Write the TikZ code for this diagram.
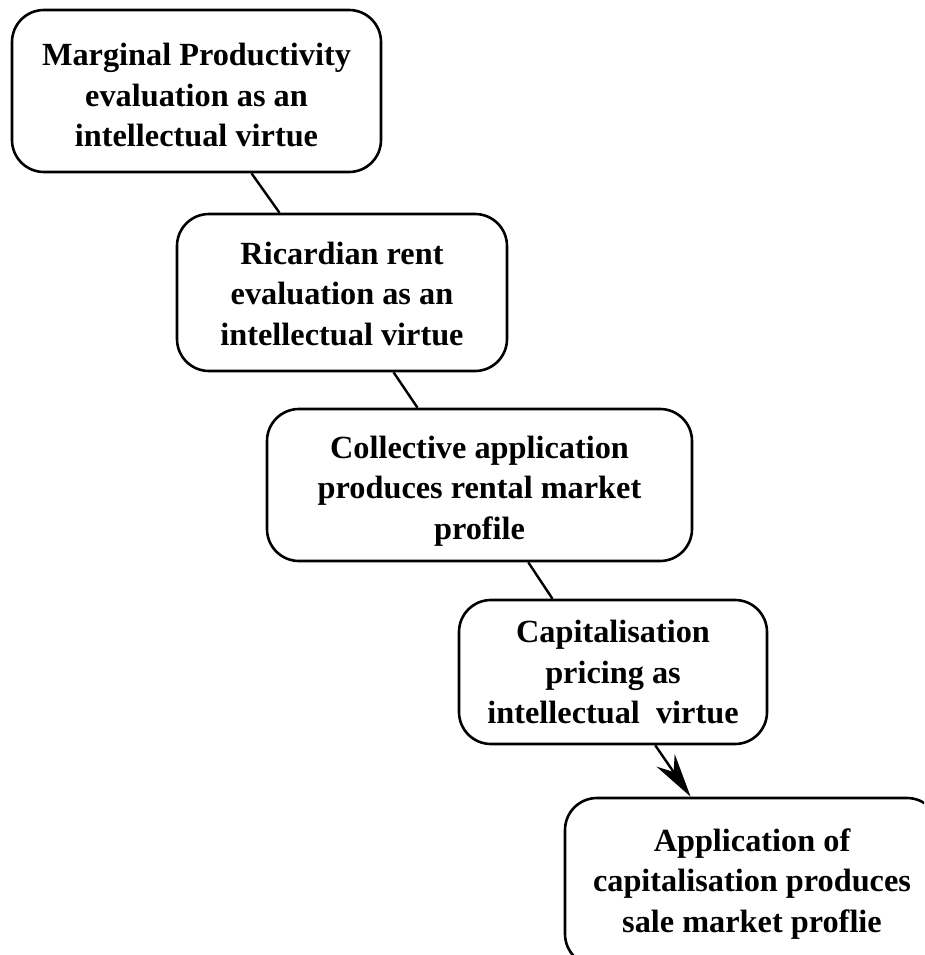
\documentclass[tikz,border=0pt]{standalone}
\usepackage{fontspec}
\setmainfont{Liberation Serif}
\usetikzlibrary{calc,arrows.meta}
\begin{document}
\begin{tikzpicture}[x=1pt,y=-1pt,
  stage/.style={draw,line width=2.6pt,rounded corners=32pt,inner sep=0pt},
  caption/.style={align=center,inner sep=0pt,
    font=\bfseries\fontsize{32.3}{40.5}\selectfont},
  link/.style={line width=2.4pt}]
\useasboundingbox (0,0) rectangle (924,955);
\clip (0,0) rectangle (924,955);
% stage boxes
\node[stage,minimum width=369pt,minimum height=162pt] (b1) at (196.5,91) {};
\node[stage,minimum width=330pt,minimum height=157pt] (b2) at (342,292.5) {};
\node[stage,minimum width=425pt,minimum height=152pt] (b3) at (479.5,485) {};
\node[stage,minimum width=308pt,minimum height=144pt] (b4) at (613,672) {};
\node[stage,minimum width=374pt,minimum height=168pt] (b5) at (752,882) {};
% stage texts
\node[caption] (t1) at ($(b1)+(0,4)$)
  {Marginal Productivity\\evaluation as an\\intellectual virtue};
\node[caption] (t2) at ($(b2)+(0,1)$)
  {Ricardian rent\\evaluation as an\\intellectual virtue};
\node[caption] (t3) at ($(b3)+(0,6)$)
  {Collective application\\produces rental market\\profile};
\node[caption] (t4) at (b4)
  {Capitalisation\\pricing as\\intellectual\ \ virtue};
\node[caption] (t5) at ($(b5)+(0,2)$)
  {Application of\\capitalisation produces\\sale market proflie};
% connectors between consecutive stages
\draw[link] ($(b1.south west)!0.648!(b1.south east)$) -- ($(b2.north west)!0.312!(b2.north east)$);
\draw[link] ($(b2.south west)!0.655!(b2.south east)$) -- ($(b3.north west)!0.355!(b3.north east)$);
\draw[link] ($(b3.south west)!0.614!(b3.south east)$) -- ($(b4.north west)!0.305!(b4.north east)$);
\draw[link,-{Stealth[length=44pt,width=22pt,inset=14pt]}]
  ($(b4.south west)!0.636!(b4.south east)$) -- ($(b5.north west)!0.337!(b5.north east)$);
\end{tikzpicture}
\end{document}
